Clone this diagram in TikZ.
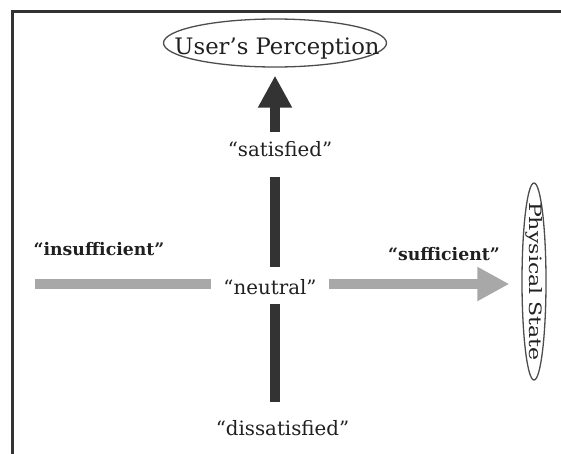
\documentclass[tikz,border=0pt]{standalone}
\usepackage{fontspec}
\setmainfont{DejaVu Serif}
\usetikzlibrary{arrows.meta,shapes.geometric}
\definecolor{ink}{HTML}{202020}
\definecolor{darkbar}{HTML}{333333}
\definecolor{lightbar}{HTML}{A8A8A8}
\definecolor{rim}{HTML}{4D4D4D}
\begin{document}
\begin{tikzpicture}[x=1pt,y=-1pt,
  frame/.style={draw=darkbar, line width=3pt, line join=miter},
  vbar/.style={draw=darkbar, line width=10pt},
  hbar/.style={draw=lightbar, line width=10pt},
  oval/.style={ellipse, draw=rim, line width=1.3pt, inner sep=0pt},
  title/.style={font=\fontsize{22.7}{26}\selectfont, text=ink, inner sep=0pt},
  plain/.style={font=\fontsize{19.8}{23}\selectfont, text=ink, inner xsep=0pt, inner ysep=0pt},
  strong/.style={font=\bfseries\fontsize{17.3}{20}\selectfont, text=ink, inner sep=0pt},
  bighead/.style={-{Triangle[width=32pt,length=32pt]}},
]
\useasboundingbox (0,0) rectangle (561,453);

% open frame: left and top edges only
\draw[frame] (12.5,456) -- (12.5,11) -- (564,11);

% axis end ovals
\node[oval, minimum width=223pt, minimum height=48pt] (user) at (275,43) {};
\node[title, anchor=base] (usertext) at (277,54) {User’s Perception};
\node[oval, minimum width=24pt, minimum height=197pt] (phys) at (534,281.5) {};
\node[font=\fontsize{17}{20}\selectfont, text=ink, inner sep=0pt, rotate=-90, xscale=1.3] (phystext) at (phys.center) {Physical State};

% labels along the axes
\node[plain, anchor=base, text height=24pt, text depth=21pt] (sat) at (280,156) {“satisfied”};
\node[plain, anchor=base, text height=27pt, text depth=10pt, inner xsep=12pt] (neu) at (270,294) {“neutral”};
\node[plain, anchor=base, text height=33pt, text depth=6pt] (dis) at (282.5,435) {“dissatisfied”};
\node[strong, anchor=base] (ins) at (99,255) {“insufficient”};
\node[strong, anchor=base] (suf) at (444,260) {“sufficient”};

\coordinate (hstart) at (35,284);

% vertical axis: perception
\draw[vbar] (dis.north -| user.south) -- (neu.south -| user.south);
\draw[vbar] (neu.north -| user.south) -- (sat.south -| user.south);
\draw[vbar, bighead, shorten >=8pt] (sat.north -| user.south) -- (user.south);

% horizontal axis: physical state
\draw[hbar] (hstart) -- (neu.west |- hstart);
\draw[hbar, bighead, shorten >=12pt] (neu.east |- hstart) -- (phys.west |- hstart);
\end{tikzpicture}
\end{document}
